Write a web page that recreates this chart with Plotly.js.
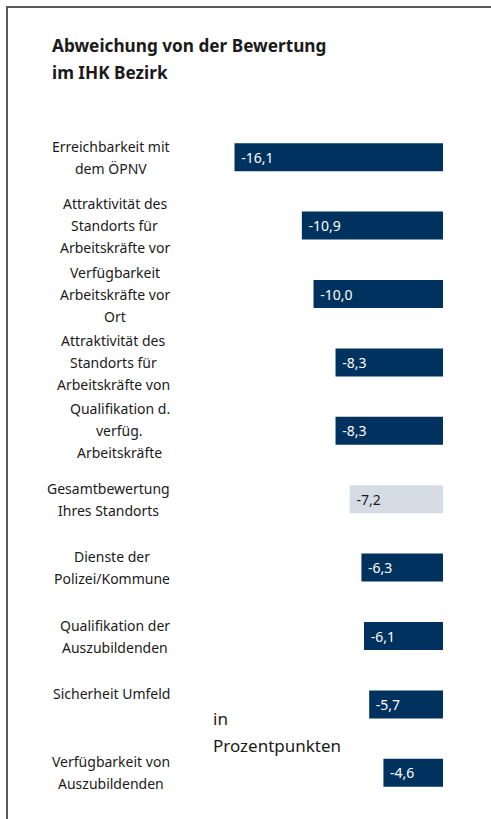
<!DOCTYPE html>
<html>
<head>
<meta charset="utf-8">
<script src="https://cdn.plot.ly/plotly-3.0.1.min.js"></script>
<style>
  html, body { margin: 0; padding: 0; background: #fff; }
  #chart { width: 491px; height: 819px; }
</style>
</head>
<body>
<div id="chart"></div>
<script>
// ---- data ----
const categories = [
  "Erreichbarkeit mit<br>dem ÖPNV",
  "Attraktivität des<br>Standorts für<br>Arbeitskräfte vor",
  "Verfügbarkeit<br>Arbeitskräfte vor<br>Ort",
  "Attraktivität des<br>Standorts für<br>Arbeitskräfte von",
  "Qualifikation d.<br>verfüg.<br>Arbeitskräfte",
  "Gesamtbewertung<br>Ihres Standorts",
  "Dienste der<br>Polizei/Kommune",
  "Qualifikation der<br>Auszubildenden",
  "Sicherheit Umfeld<br>",
  "Verfügbarkeit von<br>Auszubildenden"
];
const values = [-16.1, -10.9, -10.0, -8.3, -8.3, -7.2, -6.3, -6.1, -5.7, -4.6];
const highlightCategory = "Gesamtbewertung<br>Ihres Standorts";
const titleLines = ["Abweichung von der Bewertung", "im IHK Bezirk"];
const unitLines = ["in", "Prozentpunkten"];

// ---- styling / geometry ----
const W = 491, H = 819;
const M = {l: 0, r: 48, t: 123, b: 12};
const PW = W - M.l - M.r, PH = H - M.t - M.b;
const FONT = "Noto Sans, sans-serif";
const DARK = "#00325f", LIGHT = "#d5dce4";
const px2x = p => (p - M.l) / PW;
const py2y = p => (H - M.b - p) / PH;

const ids = categories.map((c, i) => i);
const colors = categories.map(c => c === highlightCategory ? LIGHT : DARK);
const textColors = categories.map(c => c === highlightCategory ? "#1a1a1a" : "#ffffff");
const texts = values.map(v => "\u00a0" + v.toFixed(1).replace(".", ","));

// measure text widths for block-centered multi-line labels
const ctx = document.createElement("canvas").getContext("2d");
const LABEL_SIZE = 14;
ctx.font = LABEL_SIZE + "px 'Noto Sans'";

const annotations = [];
const LABEL_RIGHT = 170, LINE_H = 22;
categories.forEach((c, i) => {
  const lines = c.split("<br>");
  const n = lines.length;
  const maxW = Math.max(...lines.map(l => ctx.measureText(l).width));
  const cx = LABEL_RIGHT - maxW / 2;
  lines.forEach((l, j) => {
    if (!l) return;
    annotations.push({
      x: px2x(cx), xref: "paper", xanchor: "center",
      y: i, yref: "y", yanchor: "middle",
      yshift: -(j - (n - 1) / 2) * LINE_H,
      text: l, showarrow: false,
      font: {family: FONT, size: LABEL_SIZE, color: "#1a1a1a"}
    });
  });
});
titleLines.forEach((t, j) => {
  annotations.push({
    x: px2x(50), xref: "paper", xanchor: "left",
    y: py2y(45 + j * 28), yref: "paper", yanchor: "middle",
    text: "<b>" + t + "</b>", showarrow: false,
    font: {family: FONT, size: 17.2, color: "#1a1a1a"}
  });
});
unitLines.forEach((t, j) => {
  annotations.push({
    x: px2x(211), xref: "paper", xanchor: "left",
    y: py2y(718 + j * 27), yref: "paper", yanchor: "middle",
    text: t, showarrow: false,
    font: {family: FONT, size: 17, color: "#1a1a1a"}
  });
});

const trace = {
  type: "bar", orientation: "h",
  x: values, y: ids,
  width: 0.41,
  marker: {color: colors, line: {width: 0}},
  text: texts, textposition: "inside", insidetextanchor: "end",
  textfont: {family: FONT, size: 14, color: textColors},
  constraintext: "none",
  hoverinfo: "skip", cliponaxis: false
};

const layout = {
  width: W, height: H,
  margin: M,
  paper_bgcolor: "#fff", plot_bgcolor: "#fff",
  showlegend: false,
  xaxis: {range: [-PW / 12.95, 0], showgrid: false, zeroline: false,
          showticklabels: false, ticks: "", showline: false, fixedrange: true},
  yaxis: {range: [categories.length - 0.5, -0.5], showgrid: false, zeroline: false,
          showticklabels: false, ticks: "", showline: false, fixedrange: true},
  annotations: annotations,
  shapes: [
    {type: "line", xref: "paper", yref: "paper",
     x0: px2x(7), x1: px2x(7), y0: py2y(6), y1: py2y(H + 5),
     line: {color: "#5a5a5a", width: 2}},
    {type: "line", xref: "paper", yref: "paper",
     x0: px2x(6), x1: px2x(W + 5), y0: py2y(7), y1: py2y(7),
     line: {color: "#5a5a5a", width: 2}}
  ]
};

Plotly.newPlot("chart", [trace], layout, {displayModeBar: false, staticPlot: true});
</script>
</body>
</html>
